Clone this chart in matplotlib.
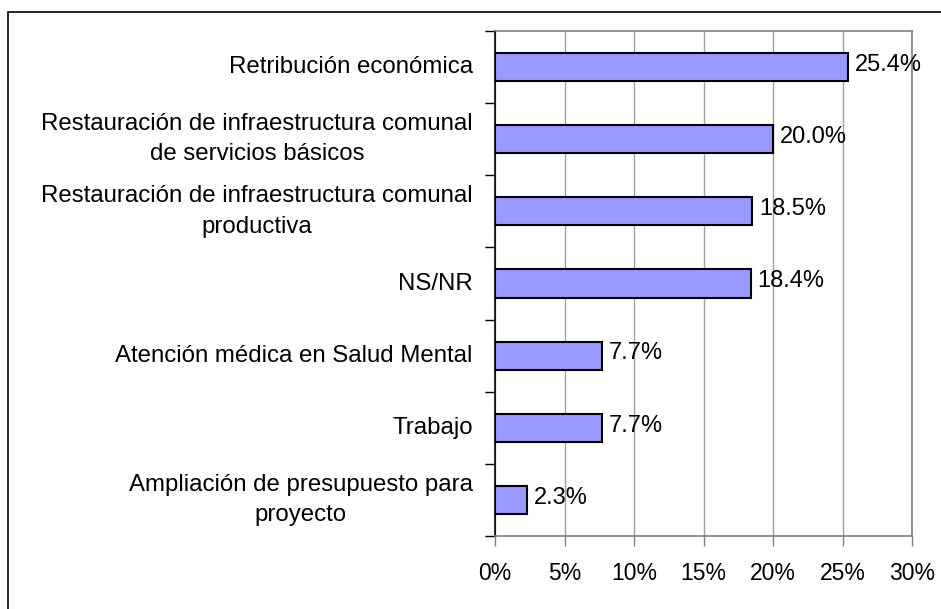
import matplotlib
matplotlib.use("Agg")
import matplotlib.pyplot as plt
from matplotlib.patches import Rectangle
from matplotlib.ticker import FuncFormatter, FixedLocator
import numpy as np

categorias = [
    "Retribución económica",
    "Restauración de infraestructura comunal\nde servicios básicos",
    "Restauración de infraestructura comunal\nproductiva",
    "NS/NR",
    "Atención médica en Salud Mental",
    "Trabajo",
    "Ampliación de presupuesto para\nproyecto",
]
valores = [25.4, 20.0, 18.5, 18.4, 7.7, 7.7, 2.3]
ticks_x = [0, 5, 10, 15, 20, 25, 30]

plt.rcParams['font.family'] = ['Liberation Sans', 'DejaVu Sans']

fig = plt.figure(figsize=(9.41, 6.09), dpi=100)
ax = fig.add_axes([495/941, 1 - 536/609, 417/941, 505/609])

# marco exterior (se sale por derecha y abajo)
fig.patches.append(Rectangle((8/941, -0.1), 1.2, 1 - 12/609 + 0.1, transform=fig.transFigure,
                             fill=False, edgecolor='black', lw=1.2, zorder=0))

y = np.arange(len(categorias))
ax.barh(y, valores, height=0.39, color='#9999ff', edgecolor='black', lw=1.5, zorder=3)

for yi, v in zip(y, valores):
    ax.text(v + 0.5, yi - 0.03, "%.1f%%" % v, va='center', ha='left', fontsize=17, zorder=4)

ax.set_xlim(0, 30)
ax.set_ylim(len(categorias) - 0.5, -0.5)
ax.set_xticks(ticks_x)
ax.xaxis.set_major_formatter(FuncFormatter(lambda v, p: "%d%%" % v))
ax.set_yticks(y)
ax.set_yticklabels(categorias, fontsize=17.3, linespacing=1.5)
for lab in ax.get_yticklabels():
    lab.set_multialignment('center')
    lab.set_va('center')
ax.yaxis.set_minor_locator(FixedLocator(np.arange(-0.5, len(categorias), 1.0)))
ax.tick_params(axis='y', which='major', length=0, pad=16)
ax.tick_params(axis='y', which='minor', length=7, width=1, color='black', direction='out')
ax.tick_params(axis='x', length=7, width=1, color='#808080', labelsize=16.5, pad=12)

ax.grid(axis='x', color='#a0a0a0', lw=1, zorder=0)
for s in ['top', 'right', 'bottom']:
    ax.spines[s].set_color('#808080')
    ax.spines[s].set_linewidth(1.2)
ax.spines['left'].set_color('black')
ax.spines['left'].set_linewidth(1.2)

fig.savefig("out.png", dpi=100)
